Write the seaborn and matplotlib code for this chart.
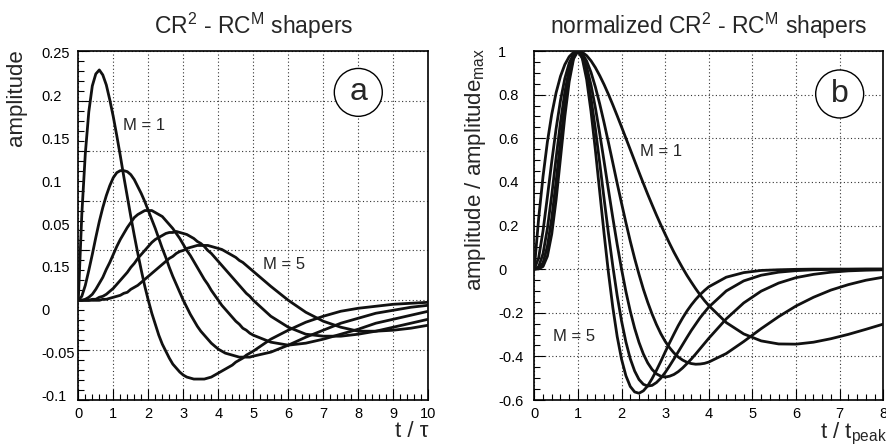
import numpy as np
import matplotlib
matplotlib.use("Agg")
import matplotlib.pyplot as plt
import seaborn as sns
import pandas as pd
from matplotlib.patches import Ellipse
from matplotlib.ticker import MultipleLocator, FuncFormatter

# ---------------- data ----------------
# panel (a): time in units of tau
t_tau = [0.0, 0.1, 0.2, 0.3, 0.4, 0.5, 0.6, 0.7, 0.8, 0.9,
         1.0, 1.1, 1.2, 1.3, 1.4, 1.5, 1.6, 1.7, 1.8, 1.9,
         2.0, 2.1, 2.2, 2.3, 2.4, 2.5, 2.6, 2.7, 2.8, 2.9,
         3.0, 3.1, 3.2, 3.3, 3.4, 3.5, 3.6, 3.7, 3.8, 3.9,
         4.0, 4.1, 4.2, 4.3, 4.4, 4.5, 4.6, 4.7, 4.8, 4.9,
         5.0,
         5.5, 6.0, 6.5, 7.0, 7.5, 8.0, 8.5, 9.0, 9.5, 10.0]

amp_M1 = [0.000, 0.086, 0.147, 0.189, 0.215, 0.227, 0.231, 0.226, 0.216, 0.201,
          0.184, 0.165, 0.145, 0.124, 0.104, 0.084, 0.065, 0.047, 0.030, 0.014,
          0.000, -0.013, -0.024, -0.035, -0.044, -0.051, -0.058, -0.064, -0.068, -0.072,
          -0.075, -0.077, -0.078, -0.079, -0.079, -0.079, -0.079, -0.078, -0.077, -0.075,
          -0.073, -0.071, -0.069, -0.067, -0.065, -0.062, -0.060, -0.058, -0.055, -0.053,
          -0.051,
          -0.039, -0.030, -0.022, -0.016, -0.011, -0.008, -0.006, -0.004, -0.003, -0.002]
amp_M2 = [0.000, 0.004, 0.015, 0.030, 0.046, 0.063, 0.079, 0.093, 0.105, 0.115,
          0.123, 0.128, 0.130, 0.130, 0.129, 0.126, 0.121, 0.114, 0.107, 0.099,
          0.090, 0.081, 0.072, 0.062, 0.052, 0.043, 0.033, 0.024, 0.016, 0.008,
          0.000, -0.007, -0.014, -0.020, -0.026, -0.031, -0.035, -0.039, -0.043, -0.046,
          -0.049, -0.051, -0.053, -0.054, -0.055, -0.056, -0.057, -0.057, -0.057, -0.057,
          -0.056,
          -0.052, -0.045, -0.037, -0.030, -0.023, -0.018, -0.013, -0.010, -0.007, -0.005]
amp_M3 = [0.000, 0.000, 0.001, 0.003, 0.006, 0.011, 0.017, 0.023, 0.031, 0.038,
          0.046, 0.054, 0.061, 0.067, 0.073, 0.078, 0.083, 0.086, 0.088, 0.090,
          0.090, 0.090, 0.088, 0.086, 0.084, 0.080, 0.076, 0.072, 0.067, 0.062,
          0.056, 0.050, 0.045, 0.039, 0.033, 0.027, 0.021, 0.016, 0.010, 0.005,
          0.000, -0.005, -0.009, -0.013, -0.017, -0.021, -0.024, -0.028, -0.030, -0.033,
          -0.035,
          -0.042, -0.045, -0.043, -0.039, -0.034, -0.029, -0.023, -0.019, -0.015, -0.011]
amp_M4 = [0.000, 0.000, 0.000, 0.000, 0.001, 0.001, 0.003, 0.004, 0.006, 0.009,
          0.012, 0.016, 0.020, 0.024, 0.028, 0.033, 0.037, 0.042, 0.046, 0.050,
          0.054, 0.058, 0.061, 0.063, 0.065, 0.067, 0.068, 0.068, 0.069, 0.068,
          0.067, 0.066, 0.064, 0.062, 0.059, 0.057, 0.054, 0.050, 0.047, 0.043,
          0.039, 0.035, 0.031, 0.027, 0.023, 0.019, 0.015, 0.011, 0.007, 0.004,
          0.000,
          -0.016, -0.027, -0.034, -0.036, -0.036, -0.034, -0.031, -0.027, -0.023, -0.019]
amp_M5 = [0.000, 0.000, 0.000, 0.000, 0.000, 0.000, 0.000, 0.001, 0.001, 0.002,
          0.003, 0.004, 0.005, 0.007, 0.008, 0.011, 0.013, 0.015, 0.018, 0.021,
          0.024, 0.027, 0.030, 0.033, 0.036, 0.039, 0.042, 0.044, 0.047, 0.049,
          0.050, 0.052, 0.053, 0.054, 0.055, 0.055, 0.055, 0.055, 0.054, 0.053,
          0.052, 0.051, 0.049, 0.047, 0.045, 0.043, 0.040, 0.038, 0.035, 0.032,
          0.029,
          0.014, 0.000, -0.012, -0.021, -0.027, -0.031, -0.031, -0.030, -0.028, -0.025]

# panel (b): time in units of t_peak, amplitude normalised to its maximum
t_peak = [0.0, 0.1, 0.2, 0.3, 0.4, 0.5, 0.6, 0.7, 0.8, 0.9,
          1.0, 1.1, 1.2, 1.3, 1.4, 1.5, 1.6, 1.7, 1.8, 1.9,
          2.0, 2.1, 2.2, 2.3, 2.4, 2.5, 2.6, 2.7, 2.8, 2.9,
          3.0, 3.1, 3.2, 3.3, 3.4, 3.5, 3.6, 3.7, 3.8, 3.9,
          4.0,
          4.4, 4.8, 5.2, 5.6, 6.0, 6.4, 6.8, 7.2, 7.6, 8.0]

norm_M1 = [0.000, 0.233, 0.425, 0.583, 0.710, 0.809, 0.884, 0.938, 0.974, 0.994,
           1.000, 0.994, 0.979, 0.955, 0.924, 0.887, 0.846, 0.801, 0.753, 0.703,
           0.652, 0.600, 0.548, 0.496, 0.444, 0.393, 0.343, 0.295, 0.248, 0.203,
           0.160, 0.118, 0.078, 0.041, 0.005, -0.029, -0.060, -0.090, -0.118, -0.144,
           -0.167,
           -0.245, -0.297, -0.329, -0.343, -0.344, -0.335, -0.319, -0.299, -0.276, -0.252]
norm_M2 = [0.000, 0.052, 0.175, 0.331, 0.493, 0.644, 0.773, 0.874, 0.945, 0.987,
           1.000, 0.988, 0.954, 0.902, 0.835, 0.757, 0.671, 0.580, 0.487, 0.393,
           0.302, 0.213, 0.128, 0.049, -0.024, -0.092, -0.152, -0.206, -0.254, -0.296,
           -0.331, -0.360, -0.384, -0.403, -0.417, -0.427, -0.433, -0.436, -0.435, -0.432,
           -0.426,
           -0.387, -0.332, -0.273, -0.218, -0.169, -0.129, -0.096, -0.071, -0.051, -0.037]
norm_M3 = [0.000, 0.011, 0.071, 0.186, 0.340, 0.510, 0.673, 0.812, 0.917, 0.979,
           1.000, 0.981, 0.927, 0.844, 0.740, 0.621, 0.493, 0.363, 0.235, 0.113,
           0.000, -0.103, -0.193, -0.271, -0.336, -0.389, -0.430, -0.460, -0.480, -0.491,
           -0.495, -0.491, -0.483, -0.470, -0.453, -0.433, -0.412, -0.389, -0.365, -0.341,
           -0.317,
           -0.228, -0.155, -0.101, -0.064, -0.039, -0.024, -0.014, -0.008, -0.005, -0.003]
norm_M4 = [0.000, 0.003, 0.029, 0.105, 0.234, 0.403, 0.585, 0.754, 0.888, 0.972,
           1.000, 0.973, 0.898, 0.784, 0.643, 0.486, 0.322, 0.163, 0.013, -0.122,
           -0.238, -0.334, -0.411, -0.467, -0.506, -0.528, -0.536, -0.533, -0.520, -0.500,
           -0.474, -0.444, -0.412, -0.379, -0.346, -0.313, -0.281, -0.252, -0.223, -0.198,
           -0.174,
           -0.100, -0.054, -0.028, -0.014, -0.007, -0.003, -0.001, -0.001, 0.000, 0.000]
norm_M5 = [0.000, 0.001, 0.012, 0.059, 0.161, 0.318, 0.508, 0.700, 0.860, 0.964,
           1.000, 0.966, 0.869, 0.723, 0.546, 0.354, 0.162, -0.017, -0.176, -0.309,
           -0.413, -0.489, -0.538, -0.563, -0.569, -0.558, -0.535, -0.502, -0.464, -0.423,
           -0.380, -0.338, -0.298, -0.259, -0.224, -0.192, -0.164, -0.139, -0.117, -0.098,
           -0.081,
           -0.037, -0.016, -0.006, -0.003, -0.001, 0.000, 0.000, 0.000, 0.000, 0.000]

orders = [1, 2, 3, 4, 5]
left_curves = [amp_M1, amp_M2, amp_M3, amp_M4, amp_M5]
right_curves = [norm_M1, norm_M2, norm_M3, norm_M4, norm_M5]

# y tick labels exactly as printed on panel (a) of the reference
left_ylabels = ["0.25", "0.2", "0.15", "0.1", "0.05", "0.15", "0", "-0.05", "-0.1"]

# ---------------- style ----------------
sns.set_theme(style="white")
plt.rcParams['font.family'] = ['Liberation Sans', 'DejaVu Sans']
plt.rcParams['mathtext.fontset'] = 'custom'
plt.rcParams['mathtext.rm'] = 'Liberation Sans'
plt.rcParams['mathtext.it'] = 'Liberation Sans:italic'
plt.rcParams['mathtext.default'] = 'regular'
plt.rcParams['axes.unicode_minus'] = False

fig = plt.figure(figsize=(8.87, 4.48), dpi=100)
axL = fig.add_axes([78.3/887, 48/448, 350/887, 349/448])
axR = fig.add_axes([534.3/887, 48/448, 349/887, 349/448])

dfL = pd.concat([pd.DataFrame({"t": t_tau, "amp": v, "M": M})
                 for M, v in zip(orders, left_curves)], ignore_index=True)
dfR = pd.concat([pd.DataFrame({"t": t_peak, "amp": v, "M": M})
                 for M, v in zip(orders, right_curves)], ignore_index=True)
for ax, df in ((axL, dfL), (axR, dfR)):
    sns.lineplot(data=df, x="t", y="amp", units="M", estimator=None, color="#111111",
                 lw=2.0, ax=ax, sort=False, zorder=4)


def style(ax):
    ax.grid(True, which="major", ls=(0, (1, 2.2)), lw=0.8, color="#333333")
    ax.tick_params(which="both", direction="in", bottom=True, left=True, top=False, right=False,
                   colors="black", labelsize=10.5, width=0.8)
    ax.tick_params(which="major", length=8)
    ax.tick_params(which="minor", length=4.5)
    ax.tick_params(axis="x", pad=5)
    for s in ax.spines.values():
        s.set_color("black")
        s.set_linewidth(1.2)
        s.set_visible(True)
    ax.set_facecolor("white")


axL.set_xlim(0, 10)
axL.set_ylim(-0.1, 0.25)
axL.xaxis.set_major_locator(MultipleLocator(1))
axL.xaxis.set_minor_locator(MultipleLocator(0.2))
axL.yaxis.set_major_locator(MultipleLocator(0.05))
axL.yaxis.set_minor_locator(MultipleLocator(0.01))
axR.set_xlim(0, 8)
axR.set_ylim(-0.6, 1.0)
axR.xaxis.set_major_locator(MultipleLocator(1))
axR.xaxis.set_minor_locator(MultipleLocator(0.2))
axR.yaxis.set_major_locator(MultipleLocator(0.2))
axR.yaxis.set_minor_locator(MultipleLocator(0.05))
style(axL)
style(axR)
fmt = FuncFormatter(lambda v, p: "%g" % round(v, 6))
axL.xaxis.set_major_formatter(fmt)
axR.xaxis.set_major_formatter(fmt)
axR.yaxis.set_major_formatter(fmt)

axL.set_yticklabels([])
for yy, s in zip(np.linspace(0.247, -0.097, len(left_ylabels)), left_ylabels):
    axL.text(-0.1066, yy, s, transform=axL.get_yaxis_transform(), ha="left", va="center",
             fontsize=10.5, color="black")
axR.tick_params(axis="y", pad=26.1)
for lab in axR.get_yticklabels():
    lab.set_ha("left")

axL.set_title("CR$^{2}$ - RC$^{M}$ shapers", fontsize=16.5, pad=12)
axR.set_title("normalized CR$^{2}$ - RC$^{M}$ shapers", fontsize=16.5, pad=12)
axL.set_ylabel("amplitude", fontsize=16, loc="top")
axL.yaxis.set_label_coords(-0.147, 1.006)
axR.set_ylabel("amplitude / amplitude$_{max}$", fontsize=16, loc="top")
axR.yaxis.set_label_coords(-0.133, 1.009)
axL.set_xlabel("t / τ", fontsize=16, loc="right")
axL.xaxis.set_label_coords(1.0, -0.06)
axR.set_xlabel("t / t$_{peak}$", fontsize=16, loc="right")
axR.xaxis.set_label_coords(1.0106, -0.06)

axL.text(1.28, 0.175, "M = 1", fontsize=12, ha="left", va="center")
axL.text(5.27, 0.036, "M = 5", fontsize=12, ha="left", va="center")
axR.text(2.42, 0.537, "M = 1", fontsize=12, ha="left", va="center")
axR.text(0.43, -0.307, "M = 5", fontsize=12, ha="left", va="center")

axL.add_patch(Ellipse((8, 0.2085), 1.371, 0.048, fc="white", ec="black", lw=1.0, zorder=3))
axL.text(8, 0.2085, "a", fontsize=23, ha="center", va="center", zorder=5)
axR.add_patch(Ellipse((7, 0.803), 1.10, 0.22, fc="white", ec="black", lw=1.0, zorder=3))
axR.text(7, 0.803, "b", fontsize=23, ha="center", va="center", zorder=5)

fig.savefig("out.png", dpi=100)
